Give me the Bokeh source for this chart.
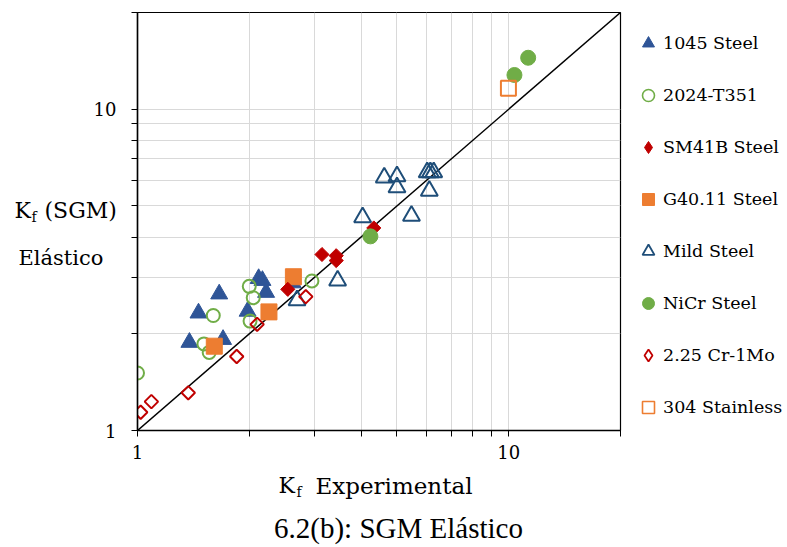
import math
import numpy as np
from bokeh.plotting import figure
from bokeh.models import (Legend, LegendItem, FixedTicker, BasicTickFormatter, Range1d)
from bokeh.core.properties import value
from bokeh.embed import file_html
from bokeh.resources import INLINE

# ---------------- data ----------------
major_ticks = [1, 10]
minor_ticks = [2, 3, 4, 5, 6, 7, 8, 9, 20]
tick_labels = {1: "1", 10: "10"}

steel1045_x = [1.38, 1.46, 1.66, 1.70, 1.98, 2.12, 2.17, 2.22, 2.62]
steel1045_y = [1.88, 2.32, 2.66, 1.92, 2.35, 2.97, 2.93, 2.69, 2.88]

al2024_x = [1.00, 1.51, 1.56, 1.60, 2.00, 2.05, 2.01, 2.95]
al2024_y = [1.51, 1.86, 1.75, 2.28, 2.81, 2.59, 2.19, 2.92]

sm41b_x = [2.54, 3.14, 3.43, 3.43, 4.33]
sm41b_y = [2.75, 3.53, 3.50, 3.38, 4.27]

g4011_x = [1.61, 2.26, 2.63]
g4011_y = [1.83, 2.34, 3.01]

mild_x = [2.69, 3.46, 4.04, 4.62, 5.00, 5.00, 5.47, 6.03, 6.15, 6.28, 6.11]
mild_y = [2.54, 2.93, 4.61, 6.13, 6.18, 5.71, 4.66, 6.36, 6.36, 6.36, 5.57]

nicr_x = [4.24, 10.36, 11.28]
nicr_y = [4.02, 12.78, 14.46]

crmo_x = [1.02, 1.09, 1.37, 1.85, 2.10, 2.84]
crmo_y = [1.14, 1.23, 1.31, 1.70, 2.14, 2.61]

ss304_x = [9.98]
ss304_y = [11.62]

ref_line = [1, 20]
axis_range = (1, 20)

series_names = ["1045 Steel", "2024-T351", "SM41B Steel", "G40.11 Steel",
                "Mild Steel", "NiCr Steel", "2.25 Cr-1Mo", "304 Stainless"]

y_title = ["K", "f", "(SGM)", "Elástico"]
x_title = ["K", "f", "Experimental"]
caption = "6.2(b): SGM Elástico"

# ---------------- main chart ----------------
W, H = 787, 547
L, R, T, B = 137, 167, 12, 117
SERIF = "DejaVu Serif"

p = figure(width=W, height=H, x_axis_type="log", y_axis_type="log",
           x_range=Range1d(*axis_range), y_range=Range1d(*axis_range),
           output_backend="svg", toolbar_location=None,
           min_border_left=L, min_border_right=R,
           min_border_top=T, min_border_bottom=B)
p.outline_line_color = "black"
p.outline_line_width = 1.2
p.background_fill_color = "white"
p.border_fill_color = "white"

for ax in (p.xaxis[0], p.yaxis[0]):
    ax.ticker = FixedTicker(ticks=major_ticks, minor_ticks=minor_ticks)
    ax.formatter = BasicTickFormatter()
    ax.major_label_overrides = tick_labels
    ax.axis_line_color = "black"
    ax.axis_line_width = 1.5
    ax.major_tick_line_color = "black"
    ax.minor_tick_line_color = "black"
    ax.major_tick_in = 0
    ax.minor_tick_in = 0
    ax.major_tick_out = 6
    ax.minor_tick_out = 6
    ax.major_label_text_font = SERIF
    ax.major_label_text_font_size = "18px"
    ax.major_label_text_color = "black"
p.xaxis.major_label_standoff = 8
p.yaxis.major_label_standoff = 15

for g in (p.xgrid[0], p.ygrid[0]):
    g.grid_line_color = "#d9d9d9"
    g.minor_grid_line_color = "#d9d9d9"
    g.grid_line_width = 1
    g.minor_grid_line_width = 1

p.line(ref_line, ref_line, line_color="black", line_width=1.5)

NAVY = "#2F5597"
DNAVY = "#1F4E79"
GREEN = "#70AD47"
RED = "#C00000"
ORANGE = "#ED7D31"
D45 = math.pi / 4

styles = [
    dict(marker="triangle", fill_color=NAVY, line_color=NAVY, line_width=1),
    dict(marker="circle", fill_alpha=0, line_color=GREEN, line_width=2),
    dict(marker="square", angle=D45, fill_color=RED, line_color=RED),
    dict(marker="square", fill_color=ORANGE, line_color=ORANGE),
    dict(marker="triangle", fill_alpha=0, line_color=DNAVY, line_width=2),
    dict(marker="circle", fill_color=GREEN, line_color=GREEN),
    dict(marker="square", angle=D45, fill_alpha=0, line_color=RED, line_width=2),
    dict(marker="square", fill_alpha=0, line_color=ORANGE, line_width=2),
]
sizes = [17, 13, 10, 16, 17, 15, 9.5, 15]
xs = [steel1045_x, al2024_x, sm41b_x, g4011_x, mild_x, nicr_x, crmo_x, ss304_x]
ys = [steel1045_y, al2024_y, sm41b_y, g4011_y, mild_y, nicr_y, crmo_y, ss304_y]

draw_order = [4, 0, 1, 3, 6, 2, 5, 7]
for i in draw_order:
    p.scatter(xs[i], ys[i], size=sizes[i], **styles[i])

# ---------------- transparent overlay for legend and titles ----------------
t = figure(width=W, height=H, x_range=Range1d(0, W), y_range=Range1d(H, 0),
           x_axis_location=None, y_axis_location=None, toolbar_location=None,
           output_backend="svg", min_border=0,
           styles={"position": "absolute", "top": "0px", "left": "0px"})
t.outline_line_color = None
t.background_fill_alpha = 0
t.border_fill_alpha = 0
t.xgrid.grid_line_color = None
t.ygrid.grid_line_color = None

legend_styles = [
    dict(marker="triangle", fill_color=NAVY, line_color=NAVY),
    dict(marker="circle", fill_alpha=0, line_color=GREEN, line_width=1.6),
    dict(marker="diamond", fill_color=RED, line_color=RED),
    dict(marker="square", fill_color=ORANGE, line_color=ORANGE),
    dict(marker="triangle", fill_alpha=0, line_color=DNAVY, line_width=1.8),
    dict(marker="circle", fill_color=GREEN, line_color=GREEN),
    dict(marker="diamond", fill_alpha=0, line_color=RED, line_width=1.8),
    dict(marker="square", fill_alpha=0, line_color=ORANGE, line_width=1.6),
]
no_point = np.array([np.nan])   # legend proxies: nothing is drawn in the plot
items = []
for name, st in zip(series_names, legend_styles):
    r = t.scatter(x=no_point, y=no_point, **st)
    items.append(LegendItem(label=name, renderers=[r]))

legend = Legend(items=items, location=(633, 125), orientation="vertical",
                glyph_width=30, glyph_height=30, label_standoff=0, spacing=22,
                padding=0, margin=0, border_line_color=None,
                background_fill_alpha=0, label_text_font=SERIF,
                label_text_font_size="17.5px", label_text_color="black")
t.add_layout(legend)


def txt(xx, yy, texts, size, align="left", font=SERIF):
    t.text(x=xx, y=yy, text=texts, text_font=value(font),
           text_font_size=value(size), text_align=align,
           text_baseline="middle", text_color="black")


# y-axis title (two horizontal lines)
txt([14, 44], [210, 210], [y_title[0], y_title[2]], "22px")
txt([31], [216], [y_title[1]], "14px")
txt([18], [257], [y_title[3]], "21px")
# x-axis title
txt([278], [485], [x_title[0]], "22px")
txt([296], [491], [x_title[1]], "14px")
txt([315], [485], [x_title[2]], "23px")
# caption
txt([398], [527], [caption], "29px", align="center", font="Liberation Serif")

open("out.html", "w").write(file_html([p, t], INLINE))
